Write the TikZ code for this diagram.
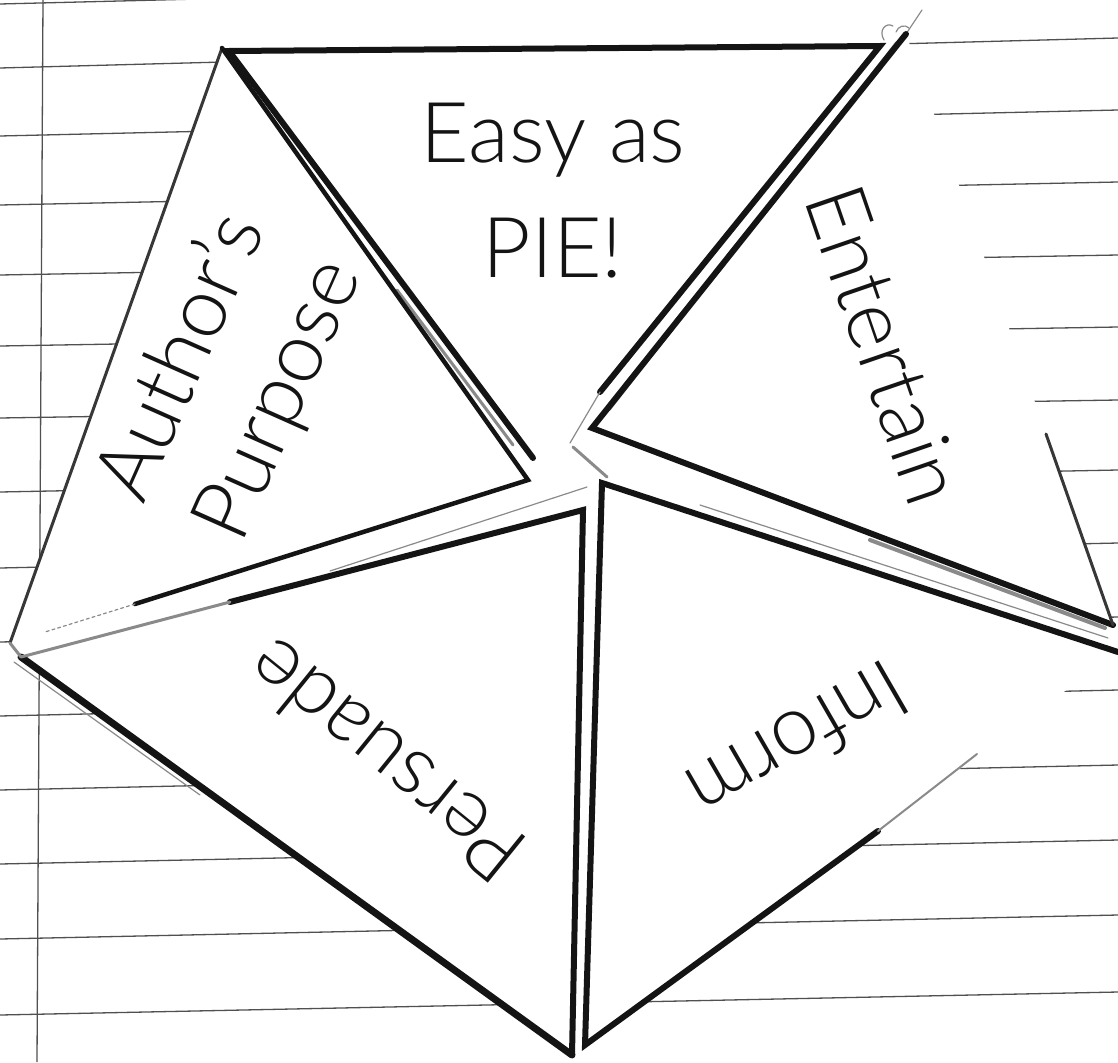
\documentclass[tikz,border=0pt]{standalone}
\usepackage{fontspec}
\newfontfamily\piefont{Lato Light}
\usetikzlibrary{calc}
\definecolor{pieink}{HTML}{141414}
\definecolor{pierule}{HTML}{505050}
\definecolor{piegrey}{HTML}{8A8A8A}
\tikzset{
  ruleline/.style={draw=pierule,line width=1.3pt},
  flapedge/.style={draw=pieink,line width=6pt,line cap=round,line join=miter},
  flapthin/.style={draw=pieink!85,line width=3pt,line cap=round},
  flapgrey/.style={draw=piegrey,line width=3pt,line cap=round,line join=round},
  hairline/.style={draw=piegrey,line width=1.2pt,line cap=round},
  flaptext/.style={font=\piefont\fontsize{84}{106}\selectfont,text=pieink,inner sep=0pt,align=center},
}
\begin{document}
\begin{tikzpicture}[x=1pt,y=-1pt]
  \useasboundingbox[fill=white] (0,0) rectangle (1118,1062);
  % ruled notebook paper
  \foreach \yl/\yr in {4/-24,68/38,136/110,205/182,275/255,346/327,418/400,492/470,568/543,642/617,716/690,790/765,864/840,939/915,1015/992}
    \draw[ruleline] (0,\yl) -- (1118,\yr);
  \draw[ruleline] (43,0) -- (37,1062);

  % corners of the five flaps
  \coordinate (A0) at (222,48);
  \coordinate (A1) at (10,643);
  \coordinate (A2) at (528,480);
  \coordinate (A3) at (135,604);
  \coordinate (A4) at (45,632);
  \coordinate (T0) at (229,51);
  \coordinate (T1) at (880,46);
  \coordinate (T2) at (533,458);
  \coordinate (T3) at (600,392);
  \coordinate (T4) at (570,443);
  \coordinate (E0) at (592,428);
  \coordinate (E1) at (906,34);
  \coordinate (E2) at (1113,625);
  \coordinate (E3) at (1046,434);
  \coordinate (P0) at (583,510);
  \coordinate (P1) at (21,657);
  \coordinate (P2) at (572,1055);
  \coordinate (P3) at (230,602);
  \coordinate (I0) at (602,483);
  \coordinate (I2) at (1118,652);
  \coordinate (I3) at (585,1045);
  \coordinate (I4) at (878,831);
  \coordinate (I5) at (977,754);

  % the paper of the foldable
  \fill[white] (A0) -- (T0) -- (T1) -- (E1) -- (E2) -- (I2) -- (I3) -- (P2) -- (P1) -- (A1) -- cycle;

  % fold shadows
  \draw[flapgrey] (397,290) -- (513,445);
  \draw[hairline] (896,42) -- (610,410);
  \draw[flapgrey,line width=4pt] (870,540) -- (1105,628);
  \draw[hairline] (700,505) -- (1108,638);
  \draw[hairline] (587,487) -- (330,571);
  \draw[flapgrey] (573,447) -- (607,477);
  \draw[hairline] (14,662) -- (200,795);
  \draw[hairline] (884,40) .. controls (878,30) and (886,22) .. (893,26);
  \draw[hairline] (896,32) .. controls (898,26) and (905,24) .. (909,28);
  \draw[hairline] (E1) -- (922,10);

  % author's purpose
  \draw[flapthin] (A0) -- (A1);
  \draw[flapedge,line width=4.5pt] (A0) -- (A2) -- (A3);
  \draw[hairline,dashed] (A3) -- (A4);
  % easy as pie
  \draw[flapedge] (T2) -- (T0) -- (T1) -- (T3);
  \draw[hairline] (T3) -- (T4);
  % entertain
  \draw[flapedge] (E1) -- (E0) -- (E2);
  \draw[flapthin] (E3) -- (E2);
  % persuade
  \draw[flapedge] (P3) -- (P0) -- (P2);
  \draw[flapedge,line width=7pt] (P2) -- (P1);
  \draw[flapgrey] (P3) -- (P1) -- (A1);
  % inform
  \draw[flapedge] (I2) -- (I0) -- (I3) -- (I4);
  \draw[flapgrey,line width=2pt] (I4) -- (I5);

  \node[flaptext,anchor=base] (easy) at (553,162) {Easy as};
  \node[flaptext,anchor=base] (pie) at (553,277) {PIE!};
  \node[flaptext,rotate=66] (purpose) at (231,379) {Author’s\\Purpose};
  \node[flaptext,rotate=-71] (entertain) at (885,345) {Entertain};
  \node[flaptext,rotate=141] (persuade) at (385,762) {Persuade};
  \node[flaptext,rotate=210] (inform) at (798,742) {Inform};
\end{tikzpicture}
\end{document}
